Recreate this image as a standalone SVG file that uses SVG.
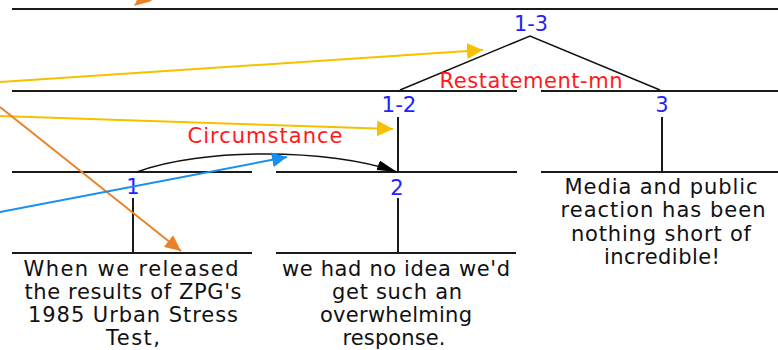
<svg xmlns="http://www.w3.org/2000/svg" width="778" height="350" viewBox="0 0 778 350">
<style>
.ln{stroke:#1a1a1a;stroke-width:2;fill:none}
.tri{stroke:#111;stroke-width:1.5;fill:none}
.txt{font-family:"DejaVu Sans","Liberation Sans",sans-serif;font-size:21px;fill:#111;text-anchor:middle}
.num{font-family:"DejaVu Sans","Liberation Sans",sans-serif;font-size:21px;fill:#2222ff;text-anchor:middle}
.rel{font-family:"DejaVu Sans","Liberation Sans",sans-serif;font-size:21px;fill:#ff1a1a;text-anchor:middle}
</style>
<defs>
<marker id="ahBlack" markerUnits="userSpaceOnUse" viewBox="0 0 20 10" refX="20" refY="5" markerWidth="20" markerHeight="10" orient="auto"><path d="M0,0 L20,5 L0,10 z" fill="#000"/></marker>
<marker id="ahYellow" markerUnits="userSpaceOnUse" viewBox="0 0 16 16" refX="16" refY="8" markerWidth="16" markerHeight="16" orient="auto"><path d="M0,0 L16,8 L0,16 z" fill="#f5c000"/></marker>
<marker id="ahOrange" markerUnits="userSpaceOnUse" viewBox="0 0 16 15" refX="16" refY="7.5" markerWidth="16" markerHeight="15" orient="auto"><path d="M0,0 L16,7.5 L0,15 z" fill="#e8832a"/></marker>
<marker id="ahBlue" markerUnits="userSpaceOnUse" viewBox="0 0 15 15" refX="15" refY="7.5" markerWidth="15" markerHeight="15" orient="auto"><path d="M0,0 L15,7.5 L0,15 z" fill="#1890f0"/></marker>
</defs>
<rect width="778" height="350" fill="#fff"/>

<g id="node-1-3">
<line class="ln" x1="12" y1="9" x2="778" y2="9"/>
<text class="num" x="531" y="31" textLength="34" lengthAdjust="spacingAndGlyphs">1-3</text>
<polyline class="tri" points="400,90 530,36 660,90"/>
<text class="rel" x="531" y="88" textLength="183" lengthAdjust="spacing">Restatement-mn</text>
</g>

<g id="node-1-2">
<line class="ln" x1="12" y1="91" x2="517" y2="91"/>
<text class="num" x="399" y="112" textLength="35" lengthAdjust="spacingAndGlyphs">1-2</text>
<line class="ln" x1="398" y1="117" x2="398" y2="172"/>
</g>

<g id="node-3">
<line class="ln" x1="541" y1="91" x2="778" y2="91"/>
<text class="num" x="662" y="112">3</text>
<line class="ln" x1="662" y1="117" x2="662" y2="172"/>
<line class="ln" x1="541" y1="172" x2="778" y2="172"/>
<text class="txt" x="661" y="194" textLength="193" lengthAdjust="spacing">Media and public</text>
<text class="txt" x="663" y="217" textLength="205" lengthAdjust="spacing">reaction has been</text>
<text class="txt" x="661" y="241" textLength="180" lengthAdjust="spacing">nothing short of</text>
<text class="txt" x="662" y="264" textLength="116" lengthAdjust="spacing">incredible!</text>
</g>

<g id="node-1">
<line class="ln" x1="12" y1="172" x2="252" y2="172"/>
<text class="num" x="133" y="194">1</text>
<line class="ln" x1="133" y1="198" x2="133" y2="253"/>
<line class="ln" x1="12" y1="253" x2="252" y2="253"/>
<text class="txt" x="131" y="276" textLength="215" lengthAdjust="spacing">When we released</text>
<text class="txt" x="133" y="299" textLength="217" lengthAdjust="spacing">the results of ZPG's</text>
<text class="txt" x="133" y="322" textLength="210" lengthAdjust="spacing">1985 Urban Stress</text>
<text class="txt" x="133" y="345" textLength="54" lengthAdjust="spacing">Test,</text>
</g>

<g id="node-2">
<line class="ln" x1="276" y1="172" x2="517" y2="172"/>
<text class="num" x="397" y="195">2</text>
<line class="ln" x1="398" y1="198" x2="398" y2="253"/>
<line class="ln" x1="276" y1="253" x2="516" y2="253"/>
<text class="txt" x="396" y="276" textLength="228" lengthAdjust="spacing">we had no idea we'd</text>
<text class="txt" x="397" y="299" textLength="130" lengthAdjust="spacing">get such an</text>
<text class="txt" x="396" y="322" textLength="152" lengthAdjust="spacing">overwhelming</text>
<text class="txt" x="394" y="345" textLength="103" lengthAdjust="spacing">response.</text>
</g>

<g id="connectors">
<path class="tri" d="M137,172 C200,148 330,148 397,172" marker-end="url(#ahBlack)"/>
<text class="rel" x="265" y="143" textLength="155" lengthAdjust="spacing">Circumstance</text>
<line x1="0" y1="82" x2="483" y2="50" stroke="#f5c000" stroke-width="2" marker-end="url(#ahYellow)"/>
<line x1="0" y1="116" x2="393" y2="129" stroke="#f5c000" stroke-width="2" marker-end="url(#ahYellow)"/>
<line x1="0" y1="107" x2="181" y2="251" stroke="#e8832a" stroke-width="2" marker-end="url(#ahOrange)"/>
<polygon points="134,6 152,1 141,-8" fill="#e8832a"/>
<line x1="0" y1="212" x2="287" y2="157" stroke="#1890f0" stroke-width="2" marker-end="url(#ahBlue)"/>
</g>
</svg>
